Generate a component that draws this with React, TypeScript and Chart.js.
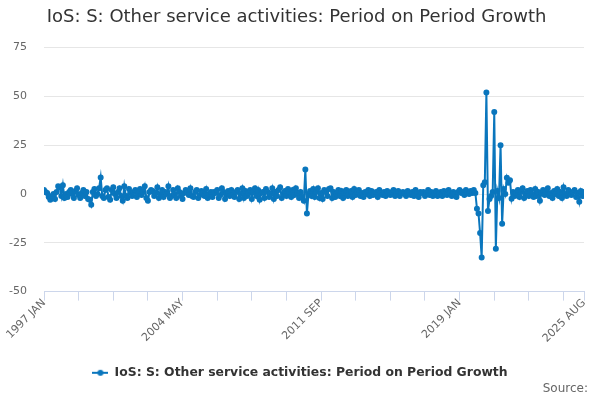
import React, { useEffect, useRef } from 'react';
import { Chart, registerables } from 'chart.js';

Chart.register(...registerables);

const monthNames = ['JAN', 'FEB', 'MAR', 'APR', 'MAY', 'JUN', 'JUL', 'AUG', 'SEP', 'OCT', 'NOV', 'DEC'];
const firstYear = 1997;

// Period on period growth, %, 1997 JAN .. 2025 AUG
const growth: number[] = [
    2, 1, 0.5, -1.5, -3, -1, 0, -2.5, 1, 4, 3.5, -1, // 1997
    4.5, -2, 0, -1.5, 1, 2, 0, -2, 1.5, 3, -0.5, -2, // 1998
    0.5, 2, -1, 1, -2.5, -3, -5.5, 1, 2.5, -1, 0, 3, // 1999
    8.5, -1, -2, 2, 3, -1.5, -3, 2, 3.5, 0, -2, 1, // 2000
    3, -1, -3.5, 4, -1, -2, 2.5, 0.5, -1, 1, 2, -1.5, // 2001
    0, 2.5, -0.5, 1, 4, -2, -3.5, 1, 2, 1.5, -1, 0.5, // 2002
    3.5, -2, 0, 2, -1.5, 1, 0, 4, -2, -1, 2, 0, // 2003
    -2, 3, 1, -1, -2.5, 0.5, 2, 1, -0.5, 3, -1, -1.5, // 2004
    1, 2, -2, -0.5, 1.5, 0.5, -1, 2.5, -2, 0, 1, -1.5, // 2005
    1, 0.5, 2, -2, -0.5, 3, 1, -2.5, 0, 1.5, -1, 2, // 2006
    -0.5, -1.5, 1, 2, -2.5, 0, 3, -2, 1.5, -1, 0.5, 2, // 2007
    -2.5, 1, 3, -1, 2, -3, 0.5, 1, -2, 2.5, 1, -1.5, // 2008
    0, 3, -2.5, 1, -1, 2, 3.5, -2, 0, 1.5, -1, 2.5, // 2009
    1, -1.5, 2, -0.5, 3, 0.5, -2, 1, -1.5, -3.5, 12.5, -10, // 2010
    0, 1.5, -1, 2.5, -1.5, 1, 3, -2, 0.5, -2.5, 2, 1, // 2011
    -1, 2.5, 3, -2, 1, -1.5, 0, 2, -1, 1.5, -2, 0.5, // 2012
    2, -1, 0, 1.5, -1.5, 2.5, -0.5, 1, 2, -1, 0.5, -1.5, // 2013
    1, 0, 2, -1, 1.5, -0.5, 0, 1, -1.5, 2, 0.5, -0.5, // 2014
    1, -1, 1.5, 0.5, -0.5, 1, 2, -1, 0, 1.5, -1, 0.5, // 2015
    1, 0, -1, 1.5, 0.5, -0.5, 1, -1, 2, 0, -1.5, 1, // 2016
    0.5, 1, -1, 0, 2, -0.5, 1, -1, 0.5, 1.5, -1, 0, // 2017
    1, -1, 1.5, 0, -0.5, 2, 0.5, -1, 1, 0, -1.5, 1, // 2018
    2, 0.5, 1, -0.5, 2, 1, 0, 1.5, 0.5, 2, 0.5, -7.5, // 2019
    -10, -20, -32.5, 4.5, 6, 52, -8.7, -2.5, -1, 1, 42, -28, // 2020
    1.5, -2, 25, -15.3, 2.5, 0, 8.3, 5.8, 7, -2.4, 1, -1, // 2021
    0.5, 2, -1.5, 1, 3, -2, 0.5, 1.5, -1, 2, 0, -1.5, // 2022
    2.5, -1, 1, -3.5, 0.5, 2, -0.5, 1, 3, -1, 0.5, -2, // 2023
    1.5, 0, 2.5, -1, 1, -2, 3.5, 0, -1, 2, 1, -0.5, // 2024
    1, 2, -1.5, 0.5, -4, 1.5, -1, 1, // 2025
];

const periods = growth.map((_, i) => `${firstYear + Math.floor(i / 12)} ${monthNames[i % 12]}`);
const labelledMonths = [0, 88, 176, 264, 343];
const tickMonths = [0, 22, 44, 66, 88, 110, 132, 154, 176, 198, 220, 242, 264, 286, 308, 330, 343];

const seriesName = 'IoS: S: Other service activities: Period on Period Growth';
const lineColor = '#0a76bd';

function legendSymbol(color: string) {
    const c = document.createElement('canvas');
    c.width = 16;
    c.height = 8;
    const g = c.getContext('2d');
    if (g) {
        g.strokeStyle = color;
        g.lineWidth = 2;
        g.beginPath();
        g.moveTo(0, 4);
        g.lineTo(16, 4);
        g.stroke();
        g.fillStyle = color;
        g.beginPath();
        g.arc(8, 4, 3, 0, Math.PI * 2);
        g.fill();
    }
    return c;
}

// centre title and legend on the whole canvas, not only on the padded box
const recentre = {
    id: 'recentre',
    afterLayout(chart: any) {
        if (chart.legend) chart.legend.right = chart.width;
        if (chart.titleBlock) chart.titleBlock.right = chart.width - 7;
    },
};

const sourceNote = {
    id: 'sourceNote',
    afterDraw(chart: any) {
        const { ctx, width } = chart;
        ctx.save();
        ctx.font = '12px "DejaVu Sans"';
        ctx.fillStyle = '#666666';
        ctx.textAlign = 'right';
        ctx.textBaseline = 'middle';
        ctx.fillText('Source:', width - 12, 389);
        ctx.restore();
    },
};

const App: React.FC = () => {
    const chartRef = useRef<HTMLCanvasElement | null>(null);

    useEffect(() => {
        document.body.style.margin = '0';
        const ctx = chartRef.current?.getContext('2d');
        if (!ctx) {
            return;
        }
        Chart.defaults.font.family = '"DejaVu Sans", sans-serif';
        const symbol = legendSymbol(lineColor);

        const myChart = new Chart(ctx, {
            type: 'line',
            data: {
                datasets: [
                    {
                        label: seriesName,
                        data: growth.map((v, i) => ({ x: i, y: v })),
                        borderColor: lineColor,
                        backgroundColor: lineColor,
                        borderWidth: 2,
                        pointRadius: 2,
                        pointHoverRadius: 2,
                        tension: 0,
                    },
                ],
            },
            options: {
                responsive: false,
                animation: false,
                layout: { padding: { top: 0, right: 16, bottom: 11, left: 0 } },
                plugins: {
                    title: {
                        display: true,
                        text: seriesName,
                        color: '#333333',
                        font: { size: 18, weight: 'normal' },
                        padding: { top: 7, bottom: 19 },
                    },
                    legend: {
                        position: 'bottom',
                        labels: {
                            color: '#333333',
                            font: { size: 12.4, weight: 'bold' },
                            usePointStyle: true,
                            pointStyleWidth: 16,
                            padding: 10,
                            generateLabels: (chart: any) =>
                                Chart.defaults.plugins.legend.labels
                                    .generateLabels(chart)
                                    .map((item: any) => ({ ...item, pointStyle: symbol })),
                        },
                    },
                    tooltip: { enabled: false },
                },
                scales: {
                    x: {
                        type: 'linear',
                        min: 0,
                        max: 343,
                        afterBuildTicks: (scale: any) => {
                            scale.ticks = tickMonths.map((v) => ({ value: v }));
                        },
                        afterFit: (scale: any) => {
                            scale.height = 65;
                        },
                        grid: {
                            drawOnChartArea: false,
                            drawTicks: true,
                            tickLength: 9,
                            color: '#ccd6eb',
                        },
                        border: { color: '#ccd6eb' },
                        ticks: {
                            autoSkip: false,
                            minRotation: 45,
                            maxRotation: 45,
                            padding: -4,
                            color: '#666666',
                            font: { size: 11 },
                            callback: (value: any) =>
                                labelledMonths.includes(Number(value)) ? periods[Number(value)] : '',
                        },
                    },
                    y: {
                        min: -50,
                        max: 75,
                        afterFit: (scale: any) => {
                            scale.width = 44;
                        },
                        grid: { color: '#e6e6e6', drawTicks: false },
                        border: { display: false },
                        ticks: {
                            stepSize: 25,
                            padding: 17,
                            color: '#666666',
                            font: { size: 11 },
                        },
                    },
                },
            },
            plugins: [recentre, sourceNote],
        });

        return () => {
            myChart.destroy();
        };
    }, []);

    return (
        <div style={{ width: 600, height: 400 }}>
            <canvas ref={chartRef} width={600} height={400} />
        </div>
    );
};

export default App;
